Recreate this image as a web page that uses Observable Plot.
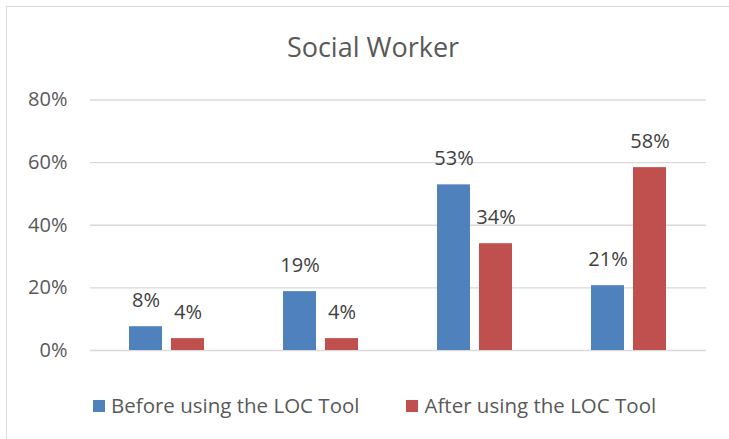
<!DOCTYPE html>
<html>
<head>
<meta charset="utf-8">
<script src="https://cdn.jsdelivr.net/npm/d3@7"></script>
<script src="https://cdn.jsdelivr.net/npm/@observablehq/plot@0.6"></script>
<style>
  html, body { margin: 0; padding: 0; background: #fff; }
  #wrap { position: relative; width: 729px; height: 439px; overflow: hidden; background: #fff; font-family: "Open Sans", sans-serif; }
  #frame { position: absolute; left: 6px; top: 6px; width: 780px; height: 480px; border: 1.5px solid #d9d9d9; box-sizing: border-box; }
  #title { position: absolute; left: 0; width: 746px; top: 29px; text-align: center; font-size: 27px; color: #595959; line-height: 36px; }
  #chart { position: absolute; left: 0; top: 0; }
  #legend { position: absolute; top: 392px; left: 93px; display: flex; gap: 47px; font-size: 20.5px; color: #595959; line-height: 27px; }
  .item { display: flex; align-items: center; }
  .sw { width: 12px; height: 12px; margin-right: 6px; }
</style>
</head>
<body>
<div id="wrap">
  <div id="frame"></div>
  <div id="title">Social Worker</div>
  <div id="chart"></div>
  <div id="legend"></div>
</div>
<script>
const categories = ["Group 1", "Group 2", "Group 3", "Group 4"];
const seriesNames = ["Before using the LOC Tool", "After using the LOC Tool"];
const seriesColors = ["#4F81BD", "#C0504D"];
const beforeValues = [7.6, 18.8, 52.9, 20.7];
const afterValues = [3.8, 3.8, 34.1, 58.4];
const beforeLabels = ["8%", "19%", "53%", "21%"];
const afterLabels = ["4%", "4%", "34%", "58%"];
const yTicks = [0, 20, 40, 60, 80];
const yTickLabels = ["0%", "20%", "40%", "60%", "80%"];

const rows = [];
categories.forEach((c, i) => {
  rows.push({category: c, series: seriesNames[0], value: beforeValues[i], label: beforeLabels[i]});
  rows.push({category: c, series: seriesNames[1], value: afterValues[i], label: afterLabels[i]});
});

const chart = Plot.plot({
  width: 729,
  height: 370,
  marginLeft: 88,
  marginRight: 22,
  marginTop: 99.5,
  marginBottom: 20,
  style: {fontFamily: "'Open Sans', sans-serif", fontSize: "20px", color: "#595959", background: "transparent", overflow: "visible"},
  fx: {domain: categories, padding: 0, axis: null, label: null},
  x: {domain: seriesNames, paddingInner: 0.21, paddingOuter: 0.92, axis: null, label: null},
  y: {domain: [0, 80], ticks: yTicks, tickSize: 0, tickPadding: 23, tickFormat: (d) => yTickLabels[yTicks.indexOf(d)], label: null},
  color: {domain: seriesNames, range: seriesColors},
  marks: [
    Plot.ruleY(yTicks, {stroke: "#d9d9d9", strokeWidth: 1.3}),
    Plot.barY(rows, {fx: "category", x: "series", y: "value", fill: "series"}),
    Plot.text(rows, {fx: "category", x: "series", y: "value", text: "label", dy: -26, fill: "#404040", fontSize: 20})
  ]
});
document.getElementById("chart").appendChild(chart);

const legend = document.getElementById("legend");
seriesNames.forEach((name, i) => {
  const item = document.createElement("div");
  item.className = "item";
  const sw = document.createElement("span");
  sw.className = "sw";
  sw.style.background = seriesColors[i];
  const t = document.createElement("span");
  t.textContent = name;
  item.appendChild(sw);
  item.appendChild(t);
  legend.appendChild(item);
});
</script>
</body>
</html>
